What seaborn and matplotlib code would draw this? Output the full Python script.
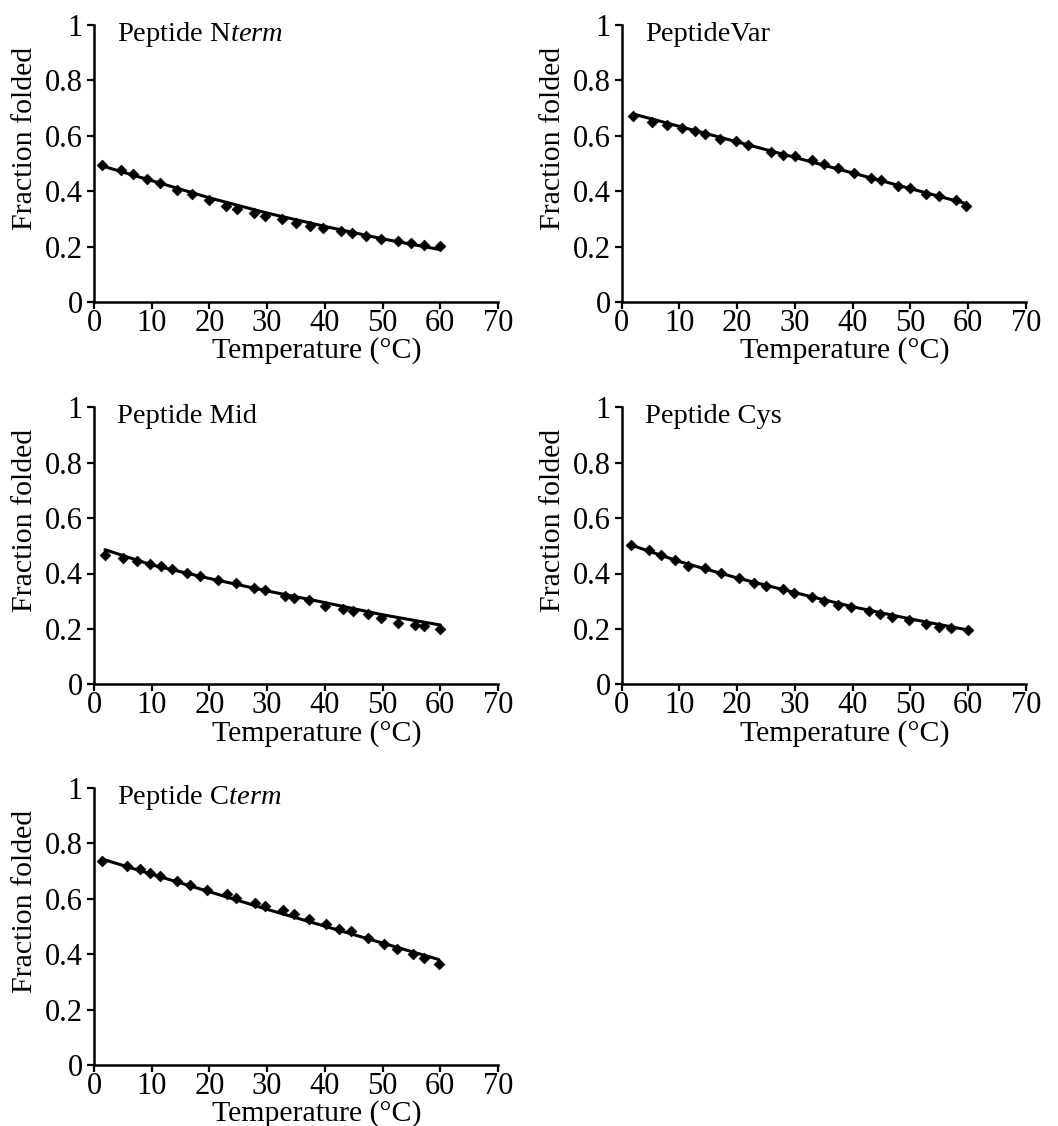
import matplotlib
matplotlib.use("Agg")
import matplotlib.pyplot as plt
import seaborn as sns
import pandas as pd

# ---------------- data ----------------
titles = ["Peptide N$\\mathit{term}$", "PeptideVar", "Peptide Mid",
          "Peptide Cys", "Peptide C$\\mathit{term}$"]

nterm_T = [1.3, 4.6, 6.8, 9.2, 11.5, 14.4, 16.9, 19.9, 22.8, 24.7, 27.8, 29.7,
           32.6, 35.0, 37.4, 39.6, 42.8, 44.7, 47.1, 49.8, 52.7, 55.0, 57.1, 60.0]
nterm_f = [0.496, 0.478, 0.462, 0.444, 0.428, 0.406, 0.390, 0.369, 0.348, 0.335,
           0.321, 0.312, 0.299, 0.287, 0.275, 0.267, 0.257, 0.249, 0.238, 0.228,
           0.222, 0.214, 0.207, 0.201]
nterm_fitT = [1.3, 10, 20, 30, 40, 50, 60]
nterm_fit = [0.492, 0.438, 0.376, 0.321, 0.273, 0.228, 0.189]

var_T = [1.95, 5.3, 7.9, 10.4, 12.7, 14.5, 17.0, 19.8, 21.8, 25.8, 28.0, 30.0,
         33.0, 35.0, 37.4, 40.3, 43.2, 45.0, 47.8, 49.9, 52.8, 55.0, 57.9, 59.7]
var_f = [0.670, 0.649, 0.639, 0.629, 0.617, 0.608, 0.589, 0.580, 0.567, 0.542,
         0.532, 0.527, 0.511, 0.497, 0.483, 0.465, 0.448, 0.442, 0.419, 0.412,
         0.390, 0.382, 0.367, 0.348]
var_fitT = [1.95, 30, 59.7]
var_fit = [0.679, 0.522, 0.355]

mid_T = [1.9, 5.0, 7.5, 9.7, 11.6, 13.6, 16.2, 18.3, 21.4, 24.6, 27.8, 29.6,
         33.1, 34.7, 37.2, 40.0, 43.2, 44.8, 47.4, 49.8, 52.7, 55.6, 57.1, 60.0]
mid_f = [0.467, 0.455, 0.446, 0.435, 0.427, 0.417, 0.401, 0.390, 0.376, 0.365,
         0.347, 0.341, 0.318, 0.313, 0.304, 0.283, 0.273, 0.266, 0.254, 0.240,
         0.223, 0.214, 0.211, 0.200]
mid_fitT = [1.9, 10, 20, 30, 40, 50, 60]
mid_fit = [0.486, 0.431, 0.382, 0.337, 0.295, 0.251, 0.214]

cys_T = [1.6, 4.8, 6.8, 9.3, 11.5, 14.4, 17.2, 20.3, 22.9, 25.0, 27.9, 29.9,
         32.9, 35.0, 37.5, 39.7, 42.9, 44.7, 46.9, 49.8, 52.8, 55.0, 57.1, 60.0]
cys_f = [0.504, 0.486, 0.467, 0.449, 0.428, 0.419, 0.401, 0.383, 0.365, 0.355,
         0.345, 0.329, 0.314, 0.302, 0.286, 0.278, 0.264, 0.253, 0.242, 0.233,
         0.217, 0.208, 0.205, 0.196]
cys_fitT = [1.6, 10, 20, 30, 40, 50, 60]
cys_fit = [0.503, 0.443, 0.384, 0.331, 0.280, 0.236, 0.196]

cterm_T = [1.3, 5.8, 7.9, 9.7, 11.5, 14.3, 16.6, 19.6, 23.1, 24.6, 27.9, 29.6,
           32.8, 34.6, 37.3, 40.2, 42.4, 44.6, 47.4, 50.3, 52.5, 55.3, 57.1, 59.7]
cterm_f = [0.736, 0.717, 0.706, 0.693, 0.682, 0.663, 0.651, 0.630, 0.616, 0.603,
           0.585, 0.575, 0.558, 0.546, 0.527, 0.510, 0.492, 0.484, 0.460, 0.436,
           0.420, 0.399, 0.387, 0.364]
cterm_fitT = [1.3, 30, 59.7]
cterm_fit = [0.744, 0.562, 0.381]

x_ticks = [0, 10, 20, 30, 40, 50, 60, 70]
y_ticks = [0, 0.2, 0.4, 0.6, 0.8, 1]
y_ticklabels = ["0", "0.2", "0.4", "0.6", "0.8", "1"]

panels = [
    (nterm_T, nterm_f, nterm_fitT, nterm_fit),
    (var_T, var_f, var_fitT, var_fit),
    (mid_T, mid_f, mid_fitT, mid_fit),
    (cys_T, cys_f, cys_fitT, cys_fit),
    (cterm_T, cterm_f, cterm_fitT, cterm_fit),
]

# ---------------- style ----------------
sns.set_style("ticks")
plt.rcParams["font.family"] = ["Liberation Serif", "DejaVu Serif"]
plt.rcParams["mathtext.fontset"] = "custom"
plt.rcParams["mathtext.rm"] = "Liberation Serif"
plt.rcParams["mathtext.it"] = "Liberation Serif:italic"
plt.rcParams["text.color"] = "black"
plt.rcParams["axes.labelcolor"] = "black"

W, H = 1058, 1126
fig = plt.figure(figsize=(W / 100, H / 100), dpi=100)

lefts = [94, 621.7]
zeros_y = [302, 684.3, 1065]
aw, ah = 404, 277

for i, (tT, tf, fT, ff) in enumerate(panels):
    r, c = divmod(i, 2)
    l = lefts[c]
    b = zeros_y[r]
    ax = fig.add_axes([l / W, 1 - b / H, aw / W, ah / H])
    df_pts = pd.DataFrame({"T": tT, "f": tf})
    df_fit = pd.DataFrame({"T": fT, "f": ff})
    sns.lineplot(data=df_fit, x="T", y="f", ax=ax, color="black", lw=2.2,
                 zorder=2)
    sns.scatterplot(data=df_pts, x="T", y="f", ax=ax, marker="D", s=30,
                    color="black", edgecolor="black", linewidth=0.5, zorder=3)
    ax.set_xlim(0, 70)
    ax.set_ylim(0, 1)
    ax.set_xticks(x_ticks)
    ax.set_xticklabels([str(t) for t in x_ticks])
    ax.set_yticks(y_ticks)
    ax.set_yticklabels(y_ticklabels)
    ax.tick_params(axis="both", labelsize=22, width=1.6, length=5,
                   color="black", labelcolor="black")
    ax.tick_params(axis="x", pad=0)
    ax.tick_params(axis="y", pad=3)
    for s in ["top", "right"]:
        ax.spines[s].set_visible(False)
    for s in ["left", "bottom"]:
        ax.spines[s].set_linewidth(1.8)
        ax.spines[s].set_color("black")
    ax.set_xlabel("Temperature (°C)", fontsize=21.5, color="black")
    ax.set_ylabel("Fraction folded", fontsize=21.5, color="black")
    ax.xaxis.set_label_coords(0.552, -0.128)
    ax.yaxis.set_label_coords(-0.138, 0.592)
    ax.text(0.057, 0.965, titles[i], transform=ax.transAxes, fontsize=20.5,
            va="center", ha="left", color="black")
    ax.set_facecolor("white")

fig.savefig("out.png", dpi=100, facecolor="white")
